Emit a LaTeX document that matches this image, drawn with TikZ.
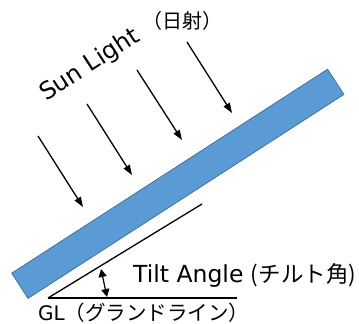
\documentclass[tikz,border=0pt]{standalone}
\usepackage{fontspec}
\setmainfont{DejaVu Sans}
\newfontfamily\jpfont{Noto Sans CJK JP}
\usepackage{tikz}
\usetikzlibrary{arrows.meta, positioning, calc}
\definecolor{panelblue}{HTML}{5B9BD5}
\definecolor{paneledge}{HTML}{41719C}
\tikzset{
  panel/.style={rectangle, draw=paneledge, line width=0.8pt, fill=panelblue,
                minimum width=376pt, minimum height=30pt, inner sep=0pt},
  ray/.style={-{Triangle[length=10pt, width=7pt]}, line width=1.3pt},
  gline/.style={line width=1.3pt},
  angarr/.style={{Triangle[length=8pt, width=8pt]}-{Triangle[length=8pt, width=8pt]}, line width=1.2pt},
  lbl/.style={inner sep=0pt, font=\fontsize{24}{28}\selectfont},
}
\newcommand{\jp}[2][21]{{\jpfont\fontsize{#1}{28}\selectfont #2}}

\begin{document}
\begin{tikzpicture}[x=1pt, y=-1pt]
  \useasboundingbox (0,0) rectangle (359,324);

  \node[panel, rotate=32.85] (pv) at (177.8,183.8) {};

  % sun rays
  \foreach \i/\sx/\sy/\ex/\ey in {1/38/136/83/207, 2/87/104/132/175,
                                  3/137/70/182/140, 4/187/42/232/113} {
    \coordinate (rs\i) at (\sx,\sy);
    \coordinate (re\i) at (\ex,\ey);
    \draw[ray] (rs\i) -- (re\i);
  }

  \node[lbl, rotate=33, anchor=base west] (sun) at (46,102) {Sun Light};
  \node[lbl] (nisha) at (182,21) {\jp[20]{（日射）}};

  % ground line and tilt
  \coordinate (gv) at (48,298);
  \coordinate (ge) at (237,298);
  \coordinate (ie) at (202,204);
  \coordinate (ta) at (101,269);
  \coordinate (tb) at (107,297);
  \draw[gline] (gv) -- (ge);
  \draw[gline] (gv) -- (ie);
  \draw[angarr] (ta) -- (tb);

  \node[lbl, anchor=base west, font=\fontsize{23.5}{28}\selectfont] (tilt) at (133,282)
    {Tilt Angle \jp[22.5]{(チルト角)}};
  \node[lbl, anchor=base west, font=\fontsize{20}{24}\selectfont] (gl) at (38,320)
    {GL\jp[20.5]{（グランドライン）}};
\end{tikzpicture}
\end{document}
